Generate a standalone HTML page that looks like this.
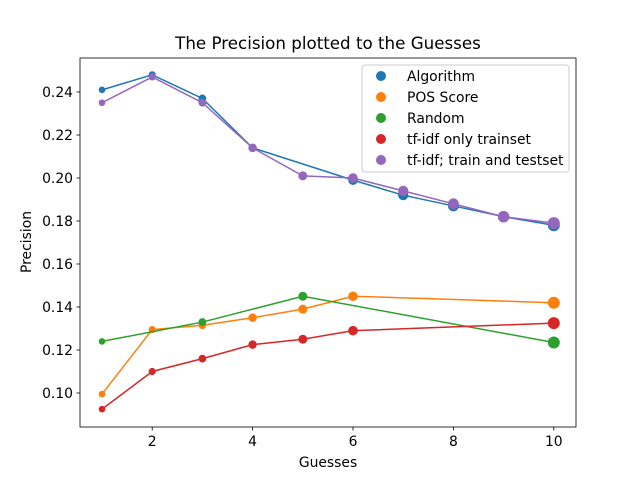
<!DOCTYPE html>
<html><head><meta charset="utf-8"><style>
body{margin:0;background:#fff;}
svg{font-family:"DejaVu Sans","Liberation Sans",sans-serif;}
</style></head><body>
<svg id="c" width="640" height="480" xmlns="http://www.w3.org/2000/svg"></svg>
<script>
const guessesAlgo=[1,2,3,4,6,7,8,9,10];
const valuesAlgo=[0.241,0.248,0.237,0.214,0.199,0.192,0.187,0.182,0.178];
const guessesPos=[1,2,3,4,5,6,10];
const valuesPos=[0.0995,0.1295,0.1315,0.135,0.139,0.145,0.142];
const guessesRandom=[1,3,5,10];
const valuesRandom=[0.124,0.133,0.145,0.1235];
const guessesTrain=[1,2,3,4,5,6,10];
const valuesTrain=[0.0925,0.110,0.116,0.1225,0.125,0.129,0.1325];
const guessesBoth=[1,2,3,4,5,6,7,8,9,10];
const valuesBoth=[0.235,0.247,0.235,0.214,0.201,0.200,0.194,0.188,0.182,0.179];
const xTicks=[2,4,6,8,10];
const yTicks=[0.10,0.12,0.14,0.16,0.18,0.20,0.22,0.24];
const seriesNames=["Algorithm","POS Score","Random","tf-idf only trainset","tf-idf; train and testset"];
const colors=["#1f77b4","#ff7f0e","#2ca02c","#d62728","#9467bd"];

const svg=document.getElementById('c');
const NS="http://www.w3.org/2000/svg";
function X(v){return 102+(v-1)*50.2;}
function Y(v){return 393-(v-0.10)/0.02*43;}
function mk(t,a,p){const e=document.createElementNS(NS,t);for(const k in a)e.setAttribute(k,a[k]);(p||svg).appendChild(e);return e;}

const title=mk('text',{x:328,y:49,'text-anchor':'middle','font-size':16.7,fill:'#000'});
title.textContent="The Precision plotted to the Guesses";



const frame=mk('rect',{x:80,y:58,width:496,height:369,fill:'none',stroke:'#000','stroke-width':0.8});



xTicks.forEach(t=>{
  mk('line',{x1:X(t),x2:X(t),y1:427,y2:430.5,stroke:'#000','stroke-width':0.8});
  const tx=mk('text',{x:X(t),y:446,'text-anchor':'middle','font-size':13.9});
  tx.textContent=t;
  
  
});
yTicks.forEach(t=>{
  mk('line',{x1:76.5,x2:80,y1:Y(t),y2:Y(t),stroke:'#000','stroke-width':0.8});
  const tx=mk('text',{x:73,y:Y(t)+5,'text-anchor':'end','font-size':13.9});
  tx.textContent=t.toFixed(2);
  
  
});
const xl=mk('text',{x:328,y:467,'text-anchor':'middle','font-size':13.9});
xl.textContent="Guesses";


const yl=mk('text',{x:0,y:0,'text-anchor':'middle','font-size':13.9,transform:'translate(31,242) rotate(-90)'});
yl.textContent="Precision";



const all=[[guessesAlgo,valuesAlgo],[guessesPos,valuesPos],[guessesRandom,valuesRandom],[guessesTrain,valuesTrain],[guessesBoth,valuesBoth]];
all.forEach((s,i)=>{
  const g=mk('g',{});
  
  
  const pts=s[0].map((x,j)=>X(x)+','+Y(s[1][j])).join(' ');
  mk('polyline',{points:pts,fill:'none',stroke:colors[i],'stroke-width':1.5},g);
  s[0].forEach((x,j)=>{
    const c=mk('circle',{cx:X(x),cy:Y(s[1][j]),r:3+x*0.3,fill:colors[i]},g);
    
    
  });
});

const lg=mk('g',{});


mk('rect',{x:362,y:65,width:207,height:107,rx:3,fill:'#fff','fill-opacity':0.8,stroke:'#ccc'},lg);
seriesNames.forEach((n,i)=>{
  const yy=76+i*21;
  mk('circle',{cx:381,cy:yy,r:5,fill:colors[i]},lg);
  const t=mk('text',{x:407,y:yy+5,'font-size':13.9},lg);
  t.textContent=n;
  
  
});
</script>
</body></html>
